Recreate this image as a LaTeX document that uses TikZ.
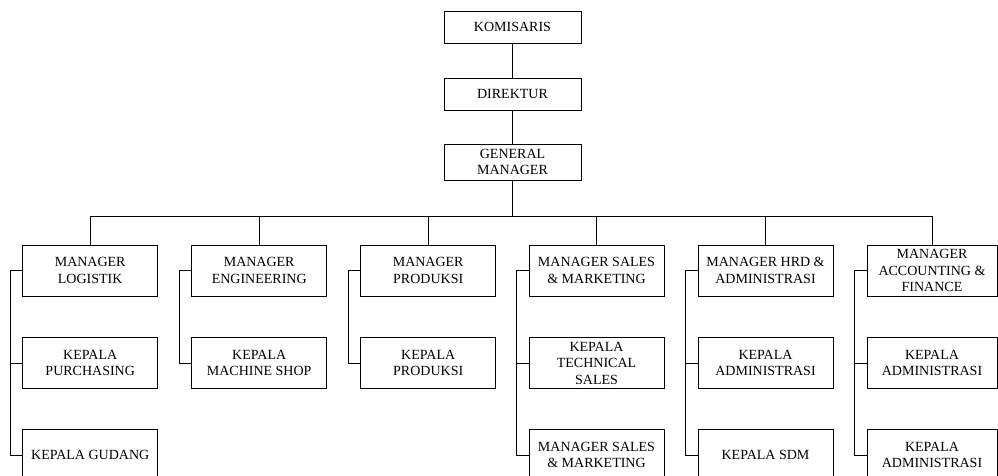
\documentclass[tikz,border=0pt]{standalone}
\usepackage{fontspec}
\setmainfont{Liberation Serif}
\begin{document}
\begin{tikzpicture}[x=1pt,y=-1pt,
  box/.style={draw, line width=0.8pt, minimum width=135pt, minimum height=51pt, align=center, inner sep=1pt, font=\fontsize{14}{16.5}\selectfont},
  topbox/.style={box, minimum width=137pt, minimum height=32pt},
  lastbox/.style={box, minimum width=130pt},
  link/.style={line width=0.8pt}]
\useasboundingbox (0,0) rectangle (998,476);
\clip (0,0) rectangle (998,476);
% top chain
\node[topbox] (kom) at (512.5,27) {KOMISARIS};
\node[topbox] (dir) at (512.5,94) {DIREKTUR};
\node[topbox, minimum height=36pt] (gm) at (512.5,162) {GENERAL\\MANAGER};
\draw[link] (kom) -- (dir);
\draw[link] (dir) -- (gm);
\coordinate (bus) at (512.5,216);
\draw[link] (gm.south) -- (bus);
% managers
\node[box] (m1) at (90.2,270.5) {MANAGER\\LOGISTIK};
\node[box] (m2) at (259.2,270.5) {MANAGER\\ENGINEERING};
\node[box] (m3) at (428.2,270.5) {MANAGER\\PRODUKSI};
\node[box] (m4) at (596.5,270.5) {MANAGER SALES\\\& MARKETING};
\node[box] (m5) at (765.5,270.5) {MANAGER HRD \&\\ADMINISTRASI};
\node[lastbox] (m6) at (932,270.5) {MANAGER\\ACCOUNTING \&\\FINANCE};
\draw[link] (m1.north |- bus) -- (m6.north |- bus);
\foreach \m in {m1,m2,m3,m4,m5,m6} \draw[link] (\m.north) -- (\m.north |- bus);
% second row
\node[box] (k1a) at (90.2,363) {KEPALA\\PURCHASING};
\node[box] (k2a) at (259.2,363) {KEPALA\\MACHINE SHOP};
\node[box] (k3a) at (428.2,363) {KEPALA\\PRODUKSI};
\node[box] (k4a) at (596.5,363) {KEPALA\\TECHNICAL\\SALES};
\node[box] (k5a) at (765.5,363) {KEPALA\\ADMINISTRASI};
\node[lastbox] (k6a) at (932,363) {KEPALA\\ADMINISTRASI};
% third row
\node[box] (k1b) at (90.2,455) {KEPALA GUDANG};
\node[box] (k4b) at (596.5,455) {MANAGER SALES\\\& MARKETING};
\node[box] (k5b) at (765.5,455) {KEPALA SDM};
\node[lastbox] (k6b) at (932,455) {KEPALA\\ADMINISTRASI};
% spines
\draw[link] (m1.west) -- ++(-12,0) |- (k1b.west);
\draw[link] (m1.west) ++(-12,0) |- (k1a.west);
\draw[link] (m2.west) -- ++(-12,0) |- (k2a.west);
\draw[link] (m3.west) -- ++(-12,0) |- (k3a.west);
\draw[link] (m4.west) -- ++(-12,0) |- (k4b.west);
\draw[link] (m4.west) ++(-12,0) |- (k4a.west);
\draw[link] (m5.west) -- ++(-12,0) |- (k5b.west);
\draw[link] (m5.west) ++(-12,0) |- (k5a.west);
\draw[link] (m6.west) -- ++(-12,0) |- (k6b.west);
\draw[link] (m6.west) ++(-12,0) |- (k6a.west);
\end{tikzpicture}
\end{document}
